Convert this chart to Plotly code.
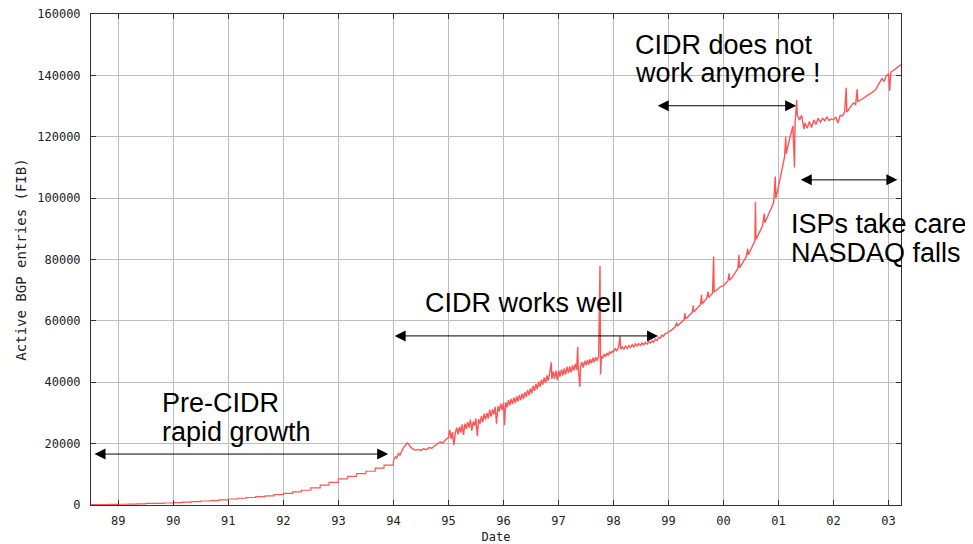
import plotly.graph_objects as go

# ---- data (decimal years, active BGP entries) ----
# early, monthly-ish stepped data
early_years = [1988.50, 1988.67, 1988.83, 1989.00, 1989.17, 1989.33, 1989.50, 1989.67, 1989.83,
               1990.00, 1990.17, 1990.33, 1990.50, 1990.67, 1990.83, 1991.00, 1991.17, 1991.33,
               1991.50, 1991.67, 1991.83, 1992.00, 1992.17, 1992.33, 1992.50, 1992.67, 1992.83,
               1993.00, 1993.17, 1993.33, 1993.50, 1993.67, 1993.83, 1994.00]
early_entries = [100, 150, 200, 250, 300, 350, 500, 550, 650,
                 800, 950, 1100, 1300, 1450, 1700, 1950, 2200, 2450,
                 2700, 3000, 3400, 3800, 4300, 4800, 5600, 6500, 7400,
                 8500, 9300, 10200, 11000, 12000, 13000, 14300]

# later, daily data with noise and spikes
daily_years = [
    1994.000, 1994.040, 1994.060, 1994.090, 1994.120, 1994.150, 1994.180, 1994.210, 1994.250, 1994.280,
    1994.310, 1994.350, 1994.400, 1994.450, 1994.500, 1994.550, 1994.600, 1994.650, 1994.700, 1994.750,
    1994.800, 1994.850, 1994.900, 1994.950,
    1995.000, 1995.025, 1995.050, 1995.075, 1995.100, 1995.125, 1995.150, 1995.175, 1995.200, 1995.225,
    1995.250, 1995.275, 1995.300, 1995.325, 1995.350, 1995.375, 1995.400, 1995.425, 1995.450, 1995.475,
    1995.500, 1995.525, 1995.550, 1995.575, 1995.600, 1995.625, 1995.650, 1995.675, 1995.700, 1995.725,
    1995.750, 1995.775, 1995.800, 1995.825, 1995.850, 1995.875, 1995.900, 1995.925, 1995.950, 1995.975,
    1996.000, 1996.020, 1996.040, 1996.065, 1996.090, 1996.115, 1996.140, 1996.165, 1996.190, 1996.215,
    1996.240, 1996.265, 1996.290, 1996.315, 1996.340, 1996.365, 1996.390, 1996.415, 1996.440, 1996.465,
    1996.490, 1996.515, 1996.540, 1996.565, 1996.590, 1996.615, 1996.640, 1996.665, 1996.690, 1996.715,
    1996.740, 1996.765, 1996.790, 1996.815, 1996.840, 1996.870, 1996.880, 1996.905, 1996.930, 1996.955,
    1996.980, 1997.005, 1997.030, 1997.055, 1997.080, 1997.105, 1997.130, 1997.155, 1997.180, 1997.205,
    1997.230, 1997.255, 1997.280, 1997.305, 1997.330, 1997.350, 1997.360, 1997.390, 1997.400, 1997.425,
    1997.450, 1997.475, 1997.500, 1997.525, 1997.550, 1997.575, 1997.600, 1997.625, 1997.650, 1997.675,
    1997.700, 1997.730, 1997.755, 1997.765, 1997.780, 1997.805, 1997.830, 1997.855, 1997.880, 1997.905,
    1997.930, 1997.955, 1997.980,
    1998.000, 1998.030, 1998.060, 1998.090, 1998.120, 1998.130, 1998.160, 1998.190, 1998.220, 1998.250,
    1998.280, 1998.310, 1998.340, 1998.370, 1998.400, 1998.430, 1998.460, 1998.490, 1998.520, 1998.550,
    1998.580, 1998.610, 1998.640, 1998.670, 1998.700, 1998.730, 1998.760, 1998.790, 1998.820, 1998.850,
    1998.880, 1998.910, 1998.940, 1998.970,
    1999.000, 1999.040, 1999.080, 1999.120, 1999.150, 1999.160, 1999.200, 1999.240, 1999.280, 1999.300,
    1999.310, 1999.350, 1999.390, 1999.430, 1999.450, 1999.460, 1999.500, 1999.540, 1999.580, 1999.600,
    1999.610, 1999.650, 1999.690, 1999.720, 1999.730, 1999.770, 1999.800, 1999.820, 1999.830, 1999.870,
    1999.910, 1999.950,
    2000.000, 2000.040, 2000.080, 2000.100, 2000.110, 2000.150, 2000.190, 2000.230, 2000.260, 2000.280,
    2000.290, 2000.330, 2000.370, 2000.410, 2000.440, 2000.450, 2000.490, 2000.530, 2000.570, 2000.580,
    2000.590, 2000.630, 2000.670, 2000.710, 2000.740, 2000.750, 2000.790, 2000.830, 2000.870, 2000.910,
    2000.940, 2000.950, 2000.990,
    2001.030, 2001.070, 2001.110, 2001.130, 2001.140, 2001.180, 2001.220, 2001.260, 2001.290, 2001.300,
    2001.330, 2001.340, 2001.380, 2001.420, 2001.460, 2001.480, 2001.520, 2001.560, 2001.600, 2001.640,
    2001.680, 2001.720, 2001.760, 2001.800, 2001.840, 2001.880, 2001.920, 2001.960,
    2002.000, 2002.040, 2002.080, 2002.120, 2002.160, 2002.200, 2002.230, 2002.240, 2002.280, 2002.320,
    2002.360, 2002.400, 2002.430, 2002.440, 2002.480, 2002.520, 2002.560, 2002.600, 2002.640, 2002.680,
    2002.720, 2002.760, 2002.800, 2002.840, 2002.880, 2002.920, 2002.960,
    2003.000, 2003.020, 2003.040, 2003.080, 2003.120, 2003.160, 2003.200, 2003.230]
daily_entries = [
    14500, 15800, 15200, 16800, 16300, 17800, 18600, 19300, 20200, 19800,
    18900, 18300, 17900, 18100, 17800, 18300, 18000, 18700, 18500, 19300,
    19800, 20500, 20200, 21300,
    22000, 24500, 21500, 23800, 19500, 23500, 25200, 23000, 25500, 23600,
    26300, 22800, 26500, 24800, 27000, 25200, 27800, 24200, 27200, 25800,
    28200, 22500, 28000, 26500, 29000, 27000, 29800, 27800, 30000, 28200,
    31000, 28800, 31200, 29500, 32000, 26500, 32200, 30500, 33000, 31000,
    33300, 26000, 33500, 31800, 34200, 32500, 34600, 32900, 35000, 33300,
    35400, 33800, 35800, 34200, 36300, 34600, 36800, 35200, 37400, 35800,
    38000, 36400, 38800, 37200, 39500, 37800, 40200, 38500, 40800, 39200,
    41500, 39800, 42200, 40500, 43000, 46500, 41000, 43500, 41200, 43800,
    40800, 43800, 41800, 44200, 42200, 44500, 42500, 45000, 43000, 45200,
    43200, 45500, 43800, 46000, 44000, 51500, 44500, 38500, 45000, 46500,
    44800, 47000, 45500, 47200, 45800, 47500, 46200, 48000, 46500, 48200,
    47000, 48500, 78000, 42500, 48500, 47800, 49200, 48300, 49500, 48700,
    50000, 49300, 50300,
    49800, 51000, 50300, 51200, 55000, 50800, 51500, 50800, 51800, 51000,
    52000, 51300, 52200, 51500, 52500, 51800, 52600, 52000, 52800, 52200,
    53000, 52400, 53200, 52800, 53500, 53000, 54000, 53600, 54600, 54400,
    55300, 55000, 55900, 56000,
    56300, 56800, 57400, 58000, 59500, 58300, 59000, 59700, 60300, 62500,
    60600, 61300, 62000, 62700, 65000, 63000, 63700, 64500, 65300, 68500,
    65500, 66400, 67200, 69500, 67600, 68400, 69000, 81000, 69400, 70000,
    70600, 71200,
    71500, 72300, 73000, 75500, 73300, 74000, 75000, 76000, 77000, 81500,
    77300, 78400, 79500, 80800, 83500, 81500, 83000, 84500, 86000, 98800,
    86500, 88000, 89500, 91000, 95000, 92000, 93500, 95000, 96500, 98500,
    107000, 100000, 103000,
    106500, 110000, 113500, 120000, 114500, 117800, 121000, 123500, 110000, 124500,
    132000, 127000, 125500, 127000, 122500, 124500, 122800, 125000, 123000, 125500,
    124000, 126000, 124800, 126000, 125200, 126500, 125300, 125800,
    125500, 126500, 124500, 127000, 126800, 128000, 136000, 128000, 129000, 130000,
    131000, 130500, 135500, 131500, 131800, 132300, 132800, 133200, 133600, 134200,
    134700, 135200, 136500, 137800, 139000, 138000, 140000,
    140500, 135000, 141000, 141500, 142200, 142600, 143200, 143500]

year_ticks = [1989, 1990, 1991, 1992, 1993, 1994, 1995, 1996, 1997, 1998, 1999, 2000, 2001, 2002, 2003]
year_labels = ['89', '90', '91', '92', '93', '94', '95', '96', '97', '98', '99', '00', '01', '02', '03']

# annotated periods: start, end, level of the double arrow
period_starts = [1988.54, 1993.995, 1998.776, 2001.376]
period_ends = [1993.905, 1998.81, 2001.32, 2003.16]
period_levels = [16600, 55100, 130100, 105950]

# text labels
label_x = [1989.76, 1989.76, 1994.54, 1998.355, 1998.355, 2001.19, 2001.19]
label_y = [33400, 23900, 65900, 150000, 140800, 91600, 82000]
label_text = ['Pre-CIDR', 'rapid growth', 'CIDR works well', 'CIDR does not',
              'work anymore !', 'ISPs take care', 'NASDAQ falls']

RED = '#FF5555'
MONO = 'DejaVu Sans Mono'
SANS = 'Liberation Sans, Arial, sans-serif'

fig = go.Figure()
fig.add_trace(go.Scatter(x=early_years, y=early_entries, mode='lines',
                         line=dict(color=RED, width=1.2, shape='hv'), hoverinfo='skip'))
fig.add_trace(go.Scatter(x=daily_years, y=daily_entries, mode='lines',
                         line=dict(color=RED, width=1.4), hoverinfo='skip'))

annotations = []
for s, e, lv in zip(period_starts, period_ends, period_levels):
    annotations.append(dict(x=e, y=lv, ax=s, ay=lv, xref='x', yref='y', axref='x', ayref='y',
                            text='', showarrow=True, arrowside='end+start',
                            arrowhead=2, startarrowhead=2, arrowsize=2.2, startarrowsize=2.2,
                            arrowwidth=1, arrowcolor='black', standoff=0, startstandoff=0))
for lx, ly, t in zip(label_x, label_y, label_text):
    annotations.append(dict(x=lx, y=ly, xref='x', yref='y', text=t, showarrow=False,
                            xanchor='left', yanchor='middle',
                            font=dict(family=SANS, size=27, color='black')))

# page body has an 8px margin, so the figure is sized to fit the 973x544 window
fig.update_layout(
    width=965, height=536,
    margin=dict(l=83, r=72, t=6, b=39),
    paper_bgcolor='white', plot_bgcolor='white',
    showlegend=False, template='none',
    annotations=annotations,
    xaxis=dict(range=[1988.504, 2003.2255], tickvals=year_ticks, ticktext=year_labels,
               ticks='inside', ticklen=5, tickcolor='#333', showline=True, linecolor='#333',
               linewidth=1, mirror='ticks', showgrid=True, gridcolor='#BDBDBD', gridwidth=1,
               zeroline=False, tickfont=dict(family=MONO, size=12, color='#222'),
               ticklabelstandoff=5, ticklabeloverflow='allow',
               title=dict(text='Date', font=dict(family=MONO, size=12, color='#222'), standoff=6)),
    yaxis=dict(range=[0, 160000], dtick=20000, tick0=0, tickformat='d',
               ticks='inside', ticklen=5, tickcolor='#333', showline=True, linecolor='#333',
               linewidth=1, mirror='ticks', showgrid=True, gridcolor='#BDBDBD', gridwidth=1,
               zeroline=False, tickfont=dict(family=MONO, size=12, color='#222'),
               ticklabelstandoff=7, ticklabeloverflow='allow',
               title=dict(text='Active BGP entries (FIB)', font=dict(family=MONO, size=14, color='#222'),
                          standoff=7)),
)

fig.write_html('out.html')
